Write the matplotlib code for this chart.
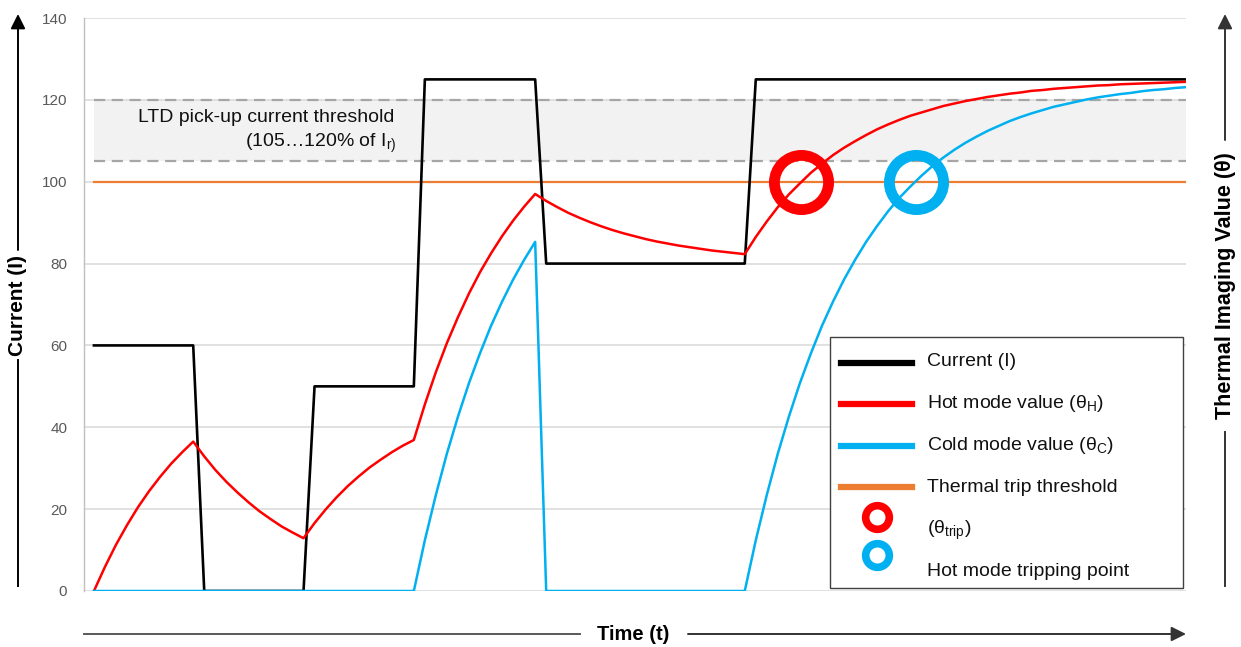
import matplotlib
matplotlib.use("Agg")
import matplotlib.pyplot as plt
from matplotlib.lines import Line2D
from matplotlib.patches import Rectangle
import numpy as np

# ---------------- data ----------------
time_idx = list(range(100))
current = [60] * 10 + [0] * 10 + [50] * 10 + [125] * 11 + [80] * 19 + [125] * 40
hot_mode = [0, 5.9, 11.3, 16.1, 20.5, 24.4, 27.9, 31.1, 33.9, 36.5,
            32.9, 29.6, 26.7, 24.1, 21.7, 19.5, 17.6, 15.8, 14.3, 12.9,
            16.6, 19.9, 22.9, 25.6, 28.0, 30.2, 32.1, 33.9, 35.5, 36.9,
            45.6, 53.5, 60.6, 66.9, 72.7, 77.9, 82.5, 86.7, 90.5, 93.9, 97.0,
            95.3, 93.8, 92.4, 91.2, 90.1, 89.1, 88.2, 87.4, 86.7, 86.0,
            85.4, 84.9, 84.4, 84.0, 83.6, 83.2, 82.9, 82.6, 82.3,
            86.5, 90.3, 93.8, 96.9, 99.6, 102.2, 104.4, 106.5, 108.3, 109.9,
            111.4, 112.8, 114.0, 115.1, 116.1, 116.9, 117.7, 118.5, 119.1, 119.7,
            120.2, 120.7, 121.1, 121.5, 121.8, 122.2, 122.4, 122.7, 122.9, 123.1,
            123.3, 123.5, 123.6, 123.8, 123.9, 124.0, 124.1, 124.2, 124.3, 124.4]
cold_mode = ([0] * 30 +
             [12.4, 23.5, 33.6, 42.6, 50.8, 58.1, 64.8, 70.7, 76.1, 80.9, 85.3] +
             [0] * 19 +
             [12.4, 23.5, 33.6, 42.6, 50.8, 58.1, 64.8, 70.7, 76.1, 80.9,
              85.3, 89.2, 92.8, 96.0, 98.8, 101.4, 103.8, 105.9, 107.8, 109.5,
              111.0, 112.4, 113.6, 114.8, 115.8, 116.7, 117.5, 118.3, 118.9, 119.5,
              120.1, 120.6, 121.0, 121.4, 121.7, 122.1, 122.4, 122.6, 122.9, 123.1])
trip_threshold = 100
ltd_low, ltd_high = 105, 120
trip_t = [64.1, 74.5]
trip_v = [100, 100]
y_ticks = [0, 20, 40, 60, 80, 100, 120, 140]

legend_labels = ["Current (I)", "Hot mode value (θ$_\\mathregular{H}$)",
                 "Cold mode value (θ$_\\mathregular{C}$)", "Thermal trip threshold",
                 "(θ$_\\mathregular{trip}$)", "Hot mode tripping point"]

# ---------------- style ----------------
plt.rcParams["font.family"] = ["Liberation Sans", "DejaVu Sans"]
plt.rcParams["mathtext.fontset"] = "custom"
plt.rcParams["mathtext.rm"] = "Liberation Sans"

BLACK = "#000000"
RED = "#FF0000"
BLUE = "#00B0F0"
ORANGE = "#ED7D31"
GRID = "#D9D9D9"
TXT = "#111111"

W, H = 1241, 647
fig = plt.figure(figsize=(W / 100, H / 100), dpi=100)
ax = fig.add_axes([84 / W, 1 - 591 / H, (1186 - 84) / W, (591 - 18) / H])

def fx(x):
    return x / W

def fy(y):
    return 1 - y / H

ax.set_xlim(-0.9, 99)
ax.set_ylim(0, 140)

# band + grid
ax.fill_between([0, 99], ltd_low, ltd_high, color="#F2F2F2", lw=0, zorder=0)
for yv in y_ticks:
    ax.axhline(yv, color=GRID, lw=1.1, zorder=0.5)
ax.plot([0, 99], [ltd_high, ltd_high], color="#A6A6A6", lw=1.6, ls=(0, (5, 3)), zorder=1)
ax.plot([0, 99], [ltd_low, ltd_low], color="#A6A6A6", lw=1.6, ls=(0, (5, 3)), zorder=1)
ax.plot([0, 99], [trip_threshold, trip_threshold], color=ORANGE, lw=1.6, zorder=2)

ax.plot(time_idx, current, color=BLACK, lw=1.9, zorder=3)
ax.plot(time_idx, hot_mode, color=RED, lw=1.8, zorder=4)
ax.plot(time_idx, cold_mode, color=BLUE, lw=1.8, zorder=4)
ax.plot(trip_t[0], trip_v[0], marker="o", ms=39, mfc="none", mec=RED, mew=7.8, zorder=6)
ax.plot(trip_t[1], trip_v[1], marker="o", ms=39, mfc="none", mec=BLUE, mew=7.8, zorder=6)

ax.text(27.25, 115.8, "LTD pick-up current threshold", ha="right", va="center",
        fontsize=14, color=TXT)
ax.text(27.45, 109.3, "(105…120% of I$_\\mathregular{r)}$", ha="right", va="center",
        fontsize=14, color=TXT)

ax.set_yticks(y_ticks)
ax.set_xticks([])
ax.tick_params(axis="y", length=0, pad=12, labelsize=11, labelcolor="#595959")
for s in ["top", "right", "bottom"]:
    ax.spines[s].set_visible(False)
ax.spines["left"].set_color("#BFBFBF")
ax.spines["left"].set_linewidth(1.0)

# ---------------- manual legend ----------------
box = Rectangle((fx(830), fy(588)), fx(1183) - fx(830), fy(337) - fy(588),
                transform=fig.transFigure, facecolor="white", edgecolor="#404040",
                lw=1.0, zorder=10)
fig.add_artist(box)
line_cols = [BLACK, RED, BLUE, ORANGE]
line_ys = [363, 404, 446, 487]
for c, yy in zip(line_cols, line_ys):
    fig.add_artist(Line2D([fx(841), fx(912)], [fy(yy), fy(yy)], color=c, lw=4.5,
                          transform=fig.transFigure, zorder=11))
fig.add_artist(Line2D([fx(877)], [fy(517)], marker="o", ms=17, mfc="none", mec=RED,
                      mew=5.5, transform=fig.transFigure, zorder=11))
fig.add_artist(Line2D([fx(877)], [fy(555)], marker="o", ms=17, mfc="none", mec=BLUE,
                      mew=5.5, transform=fig.transFigure, zorder=11))
text_ys = [362, 404, 446, 487, 530, 571]
for lab, yy in zip(legend_labels, text_ys):
    t = fig.text(fx(927), fy(yy), lab, ha="left", va="center", fontsize=14,
                 color=TXT, zorder=12)
    t.set_clip_path(box)

# ---------------- axis arrows / titles ----------------
def arrow(x0, y0, x1, y1, color):
    ax.annotate("", xy=(x1, H - y1), xytext=(x0, H - y0), xycoords="figure pixels",
                textcoords="figure pixels",
                arrowprops=dict(arrowstyle="-|>", color=color, lw=1.4,
                                mutation_scale=22, shrinkA=0, shrinkB=0))

def seg(x0, y0, x1, y1, color):
    fig.add_artist(Line2D([fx(x0), fx(x1)], [fy(y0), fy(y1)], color=color, lw=1.4,
                          transform=fig.transFigure))

# left
arrow(18, 250, 18, 14, BLACK)
seg(18, 360, 18, 586, BLACK)
fig.text(fx(18), fy(305), "Current (I)", rotation=90, ha="center", va="center",
         fontsize=15, fontweight="bold")
# right
arrow(1225, 140, 1225, 14, "#333333")
seg(1225, 432, 1225, 586, "#333333")
fig.text(fx(1225), fy(286), "Thermal Imaging Value (θ)", rotation=90, ha="center",
         va="center", fontsize=15.5, fontweight="bold")
# bottom
seg(84, 634, 580, 634, "#595959")
arrow(688, 634, 1186, 634, "#333333")
fig.text(fx(633), fy(634), "Time (t)", ha="center", va="center", fontsize=14.5,
         fontweight="bold")

fig.savefig("out.png", dpi=100)
